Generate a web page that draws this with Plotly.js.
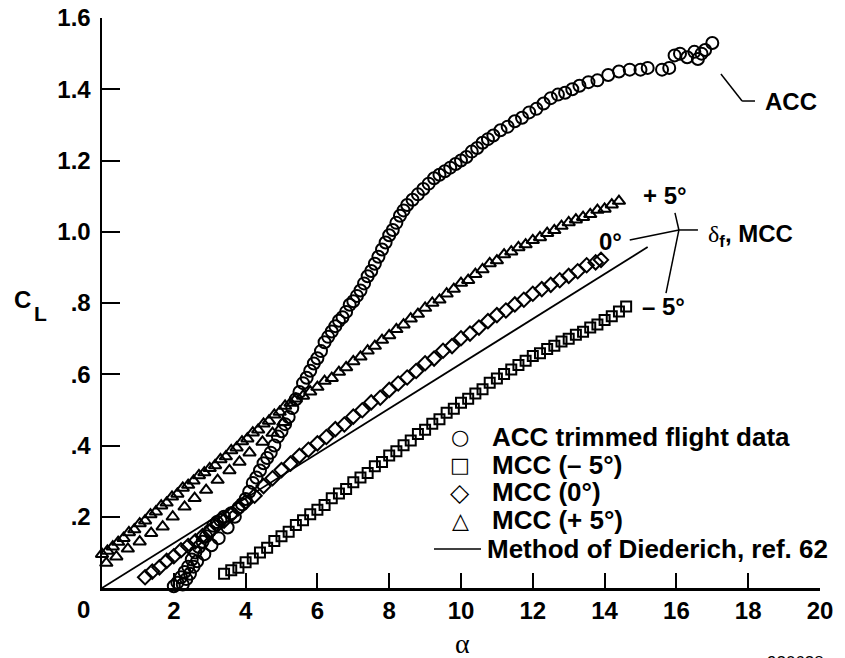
<!DOCTYPE html>
<html>
<head>
<meta charset="utf-8">
<script src="https://cdn.plot.ly/plotly-3.0.1.min.js"></script>
<style>html,body{margin:0;padding:0;background:#fff;}#chart{width:845px;height:658px;}</style>
</head>
<body>
<div id="chart"></div>
<script>
// ---- Data ----
// ACC trimmed flight data (circles)
const acc_alpha = [2.0,2.1,2.2,2.25,2.3,2.35,2.4,2.45,2.5,2.55,2.6,2.65,2.7,2.8,2.85,2.9,3.0,3.05,3.1,3.2,3.25,3.3,3.4,3.5,3.6,3.7,3.8,3.9,4.0,4.1,4.2,4.3,4.4,4.5,4.6,4.7,4.8,4.9,5.0,5.1,5.2,5.3,5.4,5.5,5.6,5.7,5.8,5.9,6.0,6.1,6.2,6.3,6.4,6.5,6.6,6.7,6.8,6.9,7.0,7.1,7.2,7.3,7.4,7.5,7.6,7.7,7.8,7.9,8.0,8.1,8.2,8.3,8.4,8.5,8.65,8.8,8.95,9.1,9.25,9.4,9.55,9.7,9.85,10.0,10.15,10.3,10.45,10.6,10.75,10.9,11.1,11.3,11.5,11.7,11.9,12.1,12.3,12.5,12.7,12.9,13.1,13.3,13.55,13.8,14.1,14.4,14.7,15.0,15.2,15.6,15.8,15.95,16.1,16.3,16.5,16.6,16.7,16.8,17.0];
const acc_cl    = [0.005,0.015,0.03,0.01,0.045,0.025,0.06,0.04,0.08,0.06,0.1,0.075,0.115,0.13,0.095,0.145,0.16,0.12,0.175,0.185,0.14,0.19,0.2,0.17,0.21,0.2,0.225,0.235,0.25,0.27,0.295,0.31,0.33,0.35,0.365,0.38,0.4,0.425,0.44,0.46,0.48,0.505,0.53,0.55,0.575,0.59,0.61,0.63,0.645,0.665,0.69,0.705,0.72,0.735,0.75,0.76,0.775,0.795,0.805,0.82,0.835,0.855,0.875,0.89,0.91,0.93,0.95,0.97,0.99,1.005,1.025,1.045,1.06,1.075,1.09,1.105,1.12,1.135,1.15,1.16,1.17,1.18,1.19,1.2,1.21,1.225,1.235,1.25,1.26,1.27,1.285,1.295,1.31,1.32,1.335,1.345,1.36,1.375,1.385,1.39,1.4,1.41,1.42,1.425,1.44,1.45,1.455,1.455,1.46,1.455,1.46,1.495,1.5,1.49,1.505,1.485,1.5,1.51,1.53];

// MCC (-5 deg) (squares)
const mccm5_alpha = [3.4,3.6,3.8,4.0,4.2,4.4,4.6,4.8,5.0,5.2,5.4,5.6,5.8,6.0,6.2,6.4,6.6,6.8,7.0,7.2,7.4,7.6,7.8,8.0,8.2,8.4,8.6,8.8,9.0,9.2,9.4,9.6,9.8,10.0,10.2,10.4,10.6,10.8,11.0,11.2,11.4,11.6,11.8,12.0,12.2,12.4,12.6,12.8,13.0,13.2,13.4,13.6,13.8,14.0,14.2,14.4,14.6];
const mccm5_cl    = [0.04,0.05,0.057,0.072,0.083,0.1,0.113,0.132,0.145,0.158,0.177,0.19,0.207,0.22,0.233,0.252,0.265,0.278,0.297,0.31,0.323,0.342,0.354,0.372,0.384,0.401,0.414,0.432,0.444,0.461,0.474,0.492,0.503,0.52,0.531,0.546,0.558,0.576,0.588,0.601,0.613,0.626,0.638,0.651,0.659,0.671,0.68,0.692,0.7,0.711,0.719,0.731,0.74,0.752,0.763,0.776,0.79];

// MCC (0 deg) (diamonds)
const mcc0_alpha = [1.2,1.4,1.6,1.8,2.0,2.2,2.4,2.6,2.8,3.0,3.2,3.4,3.6,3.8,4.0,4.25,4.5,4.75,5.0,5.25,5.5,5.75,6.0,6.25,6.5,6.75,7.0,7.25,7.5,7.75,8.0,8.25,8.5,8.75,9.0,9.25,9.5,9.75,10.0,10.25,10.5,10.75,11.0,11.25,11.5,11.75,12.0,12.25,12.5,12.75,13.0,13.25,13.5,13.75,13.9];
const mcc0_cl    = [0.03,0.046,0.058,0.076,0.089,0.106,0.118,0.131,0.146,0.159,0.176,0.189,0.206,0.224,0.241,0.259,0.286,0.308,0.331,0.349,0.371,0.388,0.406,0.424,0.446,0.459,0.481,0.499,0.521,0.534,0.556,0.574,0.591,0.609,0.631,0.644,0.666,0.679,0.701,0.714,0.731,0.749,0.766,0.779,0.796,0.809,0.826,0.839,0.851,0.864,0.876,0.889,0.906,0.914,0.921];

// MCC (+5 deg) (triangles)
const mccp5_alpha = [0.0,0.15,0.3,0.45,0.6,0.75,0.9,1.05,1.2,1.35,1.5,1.65,1.8,1.95,2.1,2.25,2.4,2.55,2.7,2.85,3.0,3.15,3.3,3.45,3.6,3.75,3.9,4.05,4.2,4.35,4.5,4.65,4.8,4.95,5.1,5.25,
  0.12,0.4,0.72,1.05,1.37,1.69,1.97,2.3,2.58,2.9,3.22,3.55,3.83,4.11,4.47,4.75,5.05,
  5.4,5.6,5.8,6.0,6.2,6.4,6.6,6.8,7.0,7.2,7.4,7.6,7.8,8.0,8.2,8.4,8.6,8.8,9.0,9.2,9.4,9.6,9.8,10.0,10.2,10.4,10.6,10.8,11.0,11.2,11.4,11.6,11.8,12.0,12.2,12.4,12.6,12.8,13.0,13.2,13.4,13.6,13.8,14.0,14.2,14.4];
const mccp5_cl    = [0.095,0.104,0.116,0.129,0.14,0.156,0.164,0.181,0.189,0.206,0.214,0.231,0.239,0.256,0.264,0.281,0.289,0.301,0.316,0.324,0.336,0.344,0.361,0.369,0.386,0.394,0.411,0.419,0.436,0.444,0.461,0.469,0.486,0.494,0.511,0.519,
  0.07,0.088,0.11,0.13,0.154,0.172,0.2,0.228,0.252,0.275,0.303,0.33,0.354,0.38,0.41,0.435,0.465,
  0.531,0.539,0.551,0.564,0.581,0.589,0.606,0.619,0.636,0.649,0.666,0.679,0.696,0.709,0.726,0.739,0.756,0.769,0.786,0.8,0.809,0.826,0.839,0.856,0.864,0.881,0.894,0.911,0.919,0.936,0.944,0.956,0.964,0.976,0.984,0.996,1.004,1.016,1.026,1.034,1.041,1.049,1.061,1.064,1.076,1.086];

// Method of Diederich, ref. 62 (straight line)
const died_alpha = [0, 15.2];
const died_cl    = [0, 0.957];

// Tick labels
const xTickVals = [2,4,6,8,10,12,14,16,18,20];
const xTickText = ["2","4","6","8","10","12","14","16","18","20"];
const yTickVals = [0.2,0.4,0.6,0.8,1.0,1.2,1.4,1.6];
const yTickText = [".2",".4",".6",".8","1.0","1.2","1.4","1.6"];

// Legend labels
const legendLabels = ["ACC trimmed flight data","MCC (\u2013 5\u00b0)","MCC (0\u00b0)","MCC (+ 5\u00b0)","Method of Diederich, ref. 62"];
const legendGlyphs = ["\u25CB","\u25A1","\u25C7","\u25B3"];

// ---- Chart ----
const SANS = "Liberation Sans, Arial, sans-serif";
const mk = (sym, size) => ({symbol: sym, size: size, color: "#000", line: {color: "#000", width: 2}});

const traces = [
  {x: acc_alpha, y: acc_cl, mode: "markers", name: legendLabels[0], marker: mk("circle-open", 12), cliponaxis: false},
  {x: mccm5_alpha, y: mccm5_cl, mode: "markers", name: legendLabels[1], marker: mk("square-open", 10), cliponaxis: false},
  {x: mcc0_alpha, y: mcc0_cl, mode: "markers", name: legendLabels[2], marker: mk("diamond-open", 11), cliponaxis: false},
  {x: mccp5_alpha, y: mccp5_cl, mode: "markers", name: legendLabels[3], marker: mk("triangle-up-open", 11), cliponaxis: false},
  {x: died_alpha, y: died_cl, mode: "lines", name: legendLabels[4], line: {color: "#000", width: 1.8}, cliponaxis: false}
];

// pixel -> paper helpers (plot area: left 102, top 18, 718 x 570)
const px = v => (v - 102) / 718;
const py = v => (588 - v) / 570;

const bold = (s) => ({family: SANS, size: s, color: "#000", weight: "bold"});

const annotations = [
  {text: "0", xref: "paper", yref: "paper", x: px(83), y: py(610), showarrow: false, font: bold(24), xanchor: "center", yanchor: "middle"},
  {text: "C", xref: "paper", yref: "paper", x: px(22), y: py(299), showarrow: false, font: bold(24), xanchor: "center", yanchor: "middle"},
  {text: "L", xref: "paper", yref: "paper", x: px(40), y: py(313), showarrow: false, font: bold(21), xanchor: "center", yanchor: "middle"},
  {text: "\u03b1", xref: "paper", yref: "paper", x: px(462), y: py(643), showarrow: false, font: {family: "Liberation Serif, serif", size: 28, color: "#000"}, xanchor: "center", yanchor: "middle"},
  {text: "920638", xref: "paper", yref: "paper", x: px(765), y: py(651), showarrow: false, font: {family: SANS, size: 17, color: "#000"}, xanchor: "left", yanchor: "top"},
  {text: "ACC", xref: "paper", yref: "paper", x: px(763), y: py(101), showarrow: false, font: bold(24), xanchor: "left", yanchor: "middle"},
  {text: "+ 5\u00b0", xref: "paper", yref: "paper", x: px(665), y: py(196), showarrow: false, font: bold(24), xanchor: "center", yanchor: "middle"},
  {text: "0\u00b0", xref: "paper", yref: "paper", x: px(610), y: py(241), showarrow: false, font: bold(24), xanchor: "center", yanchor: "middle"},
  {text: "<span style='font-family:Liberation Serif;font-weight:normal'>\u03b4</span><sub>f</sub>, MCC", xref: "paper", yref: "paper", x: px(706), y: py(236), showarrow: false, font: bold(24), xanchor: "left", yanchor: "middle"},
  {text: "\u2013 5\u00b0", xref: "paper", yref: "paper", x: px(663), y: py(306), showarrow: false, font: bold(24), xanchor: "center", yanchor: "middle"}
];

// custom legend (text + glyphs)
const legRows = [437, 465, 492, 520, 549];
const glyphSizes = [21, 21, 25, 22];
for (let i = 0; i < 4; i++) {
  annotations.push({text: legendGlyphs[i], xref: "paper", yref: "paper", x: px(460), y: py(legRows[i]), showarrow: false, font: {family: "DejaVu Sans", size: glyphSizes[i], color: "#000"}, xanchor: "center", yanchor: "middle"});
  annotations.push({text: legendLabels[i], xref: "paper", yref: "paper", x: px(490), y: py(legRows[i]), showarrow: false, font: bold(26), xanchor: "left", yanchor: "middle"});
}
annotations.push({text: legendLabels[4], xref: "paper", yref: "paper", x: px(485), y: py(legRows[4]), showarrow: false, font: bold(26), xanchor: "left", yanchor: "middle"});

const ln = (x0, y0, x1, y1, ref) => ({type: "line", xref: ref || "x", yref: ref || "y", x0: x0, y0: y0, x1: x1, y1: y1, line: {color: "#000", width: 1.5}, layer: "above"});

const shapes = [
  // ACC leader
  ln(17.24, 1.443, 17.83, 1.367), ln(17.83, 1.367, 18.19, 1.367),
  // delta_f, MCC leaders
  ln(15.96, 1.053, 16.07, 1.005), ln(16.07, 1.005, 16.6, 1.005),
  ln(14.7, 0.977, 16.07, 1.005), ln(16.07, 1.005, 15.71, 0.828),
  // legend line sample
  ln(px(434), py(549), px(481), py(549), "paper")
];

const layout = {
  width: 845, height: 658,
  margin: {l: 102, r: 25, t: 18, b: 70, pad: 0},
  paper_bgcolor: "#fff", plot_bgcolor: "#fff",
  showlegend: false,
  xaxis: {range: [0, 20], showline: true, linecolor: "#000", linewidth: 2.5, showgrid: false, zeroline: false,
          ticks: "inside", ticklen: 15, tickwidth: 2, tickcolor: "#000",
          tickmode: "array", tickvals: xTickVals, ticktext: xTickText, tickfont: bold(24), ticklabelstandoff: 0},
  yaxis: {range: [0, 1.6], showline: true, linecolor: "#000", linewidth: 2.5, showgrid: false, zeroline: false,
          ticks: "inside", ticklen: 18, tickwidth: 2, tickcolor: "#000",
          tickmode: "array", tickvals: yTickVals, ticktext: yTickText, tickfont: bold(24), ticklabelstandoff: 4},
  annotations: annotations,
  shapes: shapes
};

Plotly.newPlot("chart", traces, layout, {staticPlot: true, displayModeBar: false});
</script>
</body>
</html>
